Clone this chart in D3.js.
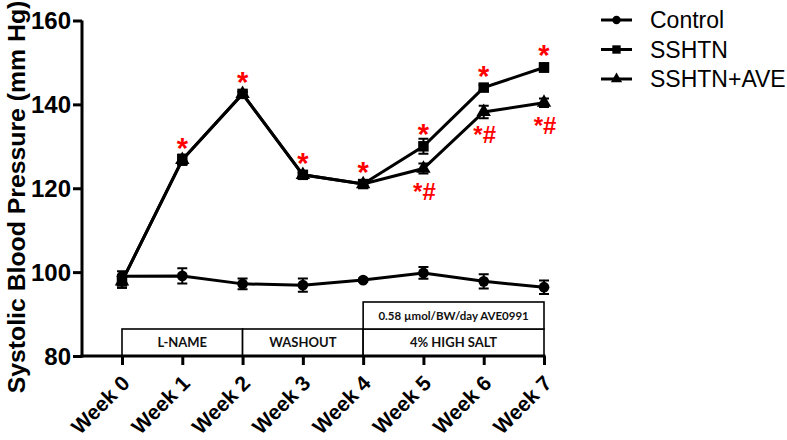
<!DOCTYPE html>
<html><head><meta charset="utf-8">
<script src="https://cdn.jsdelivr.net/npm/d3@7"></script>
<style>body{margin:0;background:#fff}svg{display:block}</style>
</head><body>
<script>
const weeks = ["Week 0","Week 1","Week 2","Week 3","Week 4","Week 5","Week 6","Week 7"];
const controlMean = [99.0, 99.1, 97.2, 96.9, 98.1, 99.8, 97.8, 96.4];
const controlErr  = [1.2, 1.8, 1.3, 1.6, 0.4, 1.4, 1.7, 1.6];
const sshtnMean = [97.8, 126.8, 142.5, 123.2, 121.0, 130.0, 144.0, 148.8];
const sshtnErr  = [1.5, 1.2, 0.5, 0.5, 0.5, 1.8, 0.6, 1.0];
const aveMean = [97.8, 126.8, 142.5, 123.2, 121.0, 124.7, 138.2, 140.4];
const aveErr  = [1.5, 1.2, 0.5, 0.5, 0.5, 1.2, 1.5, 1.0];
const sigAbove = ["", "*", "*", "*", "*", "*", "*", "*"];
const sigBelow = ["", "", "", "", "", "*#", "*#", "*#"];
const yTicks = [80, 100, 120, 140, 160];
const seriesNames = ["Control", "SSHTN", "SSHTN+AVE"];
const periods = [
  {label: "L-NAME", from: 0, to: 2, row: 0},
  {label: "WASHOUT", from: 2, to: 4, row: 0},
  {label: "4% HIGH SALT", from: 4, to: 7, row: 0},
  {label: "0.58 \u00b5mol/BW/day AVE0991", from: 4, to: 7, row: 1}
];

const FONT = "Arial, 'Liberation Sans', Helvetica, sans-serif";
const W = 787, H = 440;
const svg = d3.select("body").append("svg").attr("width", W).attr("height", H);
const x = d3.scalePoint().domain(weeks).range([122, 544]);
const y = d3.scaleLinear().domain([80, 160]).range([356, 20.5]);
const axisX0 = 82;

// period boxes
const rowH = 27;
const bg = svg.append("g");
periods.forEach(p => {
  const x0 = x(weeks[p.from]), x1 = x(weeks[p.to]);
  const yb = y(80) - p.row * rowH;
  bg.append("rect").attr("x", x0).attr("y", yb - rowH).attr("width", x1 - x0).attr("height", rowH)
    .attr("fill", "#fff").attr("stroke", "#000").attr("stroke-width", 1.6);
  bg.append("text").attr("x", (x0 + x1) / 2).attr("y", yb - rowH / 2 + 4.5)
    .attr("text-anchor", "middle").attr("font-family", "Lato, 'Open Sans', sans-serif")
    .attr("font-weight", "bold").attr("font-size", p.row === 0 ? 13 : 11.5).attr("fill", "#111")
    .text(p.label);
});

// axes
const yAxis = svg.append("g").attr("transform", `translate(${axisX0},0)`)
  .call(d3.axisLeft(y).tickValues(yTicks).tickSize(9).tickPadding(2));
yAxis.select(".domain").attr("stroke-width", 3).attr("d", `M-0,${y(80)+1.5}V${y(160)}`);
yAxis.selectAll(".tick line").attr("stroke-width", 3);
yAxis.selectAll(".tick text").attr("font-family", FONT)
  .attr("font-weight", "bold").attr("font-size", 24).attr("fill", "#000").attr("dy", "0.35em");

const xAxis = svg.append("g").attr("transform", `translate(0,${y(80)})`)
  .call(d3.axisBottom(x).tickSize(9).tickPadding(3));
xAxis.select(".domain").attr("stroke-width", 3).attr("d", `M${axisX0 - 1.5},0H${x(weeks[7]) + 1.5}`);
xAxis.selectAll(".tick line").attr("stroke-width", 3);
xAxis.selectAll(".tick text").attr("font-family", FONT)
  .attr("font-weight", "bold").attr("font-size", 21).attr("fill", "#000")
  .attr("text-anchor", "end").attr("dy", 0)
  .attr("transform", "translate(0,20) rotate(-45)");

// y label
svg.append("text").attr("transform", `translate(25,${197}) rotate(-90)`)
  .attr("text-anchor", "middle").attr("font-family", FONT)
  .attr("font-weight", "bold").attr("font-size", 24.8).text("Systolic Blood Pressure (mm Hg)");

const series = [
  {name: seriesNames[0], mean: controlMean, err: controlErr, shape: "circle"},
  {name: seriesNames[2], mean: aveMean, err: aveErr, shape: "triangle"},
  {name: seriesNames[1], mean: sshtnMean, err: sshtnErr, shape: "square"}
];
const line = d3.line().x((d, i) => x(weeks[i])).y(d => y(d));
const symbolFor = s => s === "circle" ? d3.symbol(d3.symbolCircle, 90)
  : s === "square" ? d3.symbol(d3.symbolSquare, 110) : d3.symbol(d3.symbolTriangle, 90);

series.forEach(s => {
  const g = svg.append("g");
  g.append("path").attr("d", line(s.mean)).attr("fill", "none").attr("stroke", "#000").attr("stroke-width", 3);
  s.mean.forEach((m, i) => {
    const cx = x(weeks[i]);
    const e = s.err[i];
    g.append("path").attr("d", `M${cx},${y(m - e)}V${y(m + e)}M${cx - 5},${y(m - e)}H${cx + 5}M${cx - 5},${y(m + e)}H${cx + 5}`)
      .attr("stroke", "#000").attr("stroke-width", 2).attr("fill", "none");
    g.append("path").attr("d", symbolFor(s.shape)()).attr("transform", `translate(${cx},${y(m)})`).attr("fill", "#000");
  });
});

// significance marks
sigAbove.forEach((t, i) => {
  if (!t) return;
  svg.append("text").attr("x", x(weeks[i])).attr("y", y(sshtnMean[i]) - 19 + 17)
    .attr("text-anchor", "middle").attr("font-family", FONT).attr("font-weight", "bold")
    .attr("font-size", 29).attr("fill", "#ff0000").text(t);
});
sigBelow.forEach((t, i) => {
  if (!t) return;
  svg.append("text").attr("x", x(weeks[i]) + 1).attr("y", y(aveMean[i]) + 21 + 10)
    .attr("text-anchor", "middle").attr("font-family", FONT).attr("font-weight", "bold")
    .attr("font-size", 24).attr("fill", "#ff0000").text(t);
});

// legend
const legend = svg.append("g");
const legendShapes = ["circle", "square", "triangle"];
seriesNames.forEach((n, i) => {
  const ly = 20 + i * 29.5;
  legend.append("line").attr("x1", 601).attr("x2", 632).attr("y1", ly).attr("y2", ly).attr("stroke", "#000").attr("stroke-width", 3);
  legend.append("path").attr("d", symbolFor(legendShapes[i]).size(legendShapes[i] === "square" ? 70 : 55)()).attr("transform", `translate(616.5,${ly})`);
  legend.append("text").attr("x", 650).attr("y", ly + 8).attr("font-family", FONT)
    .attr("font-size", 23).text(n);
});
</script>
</body></html>
